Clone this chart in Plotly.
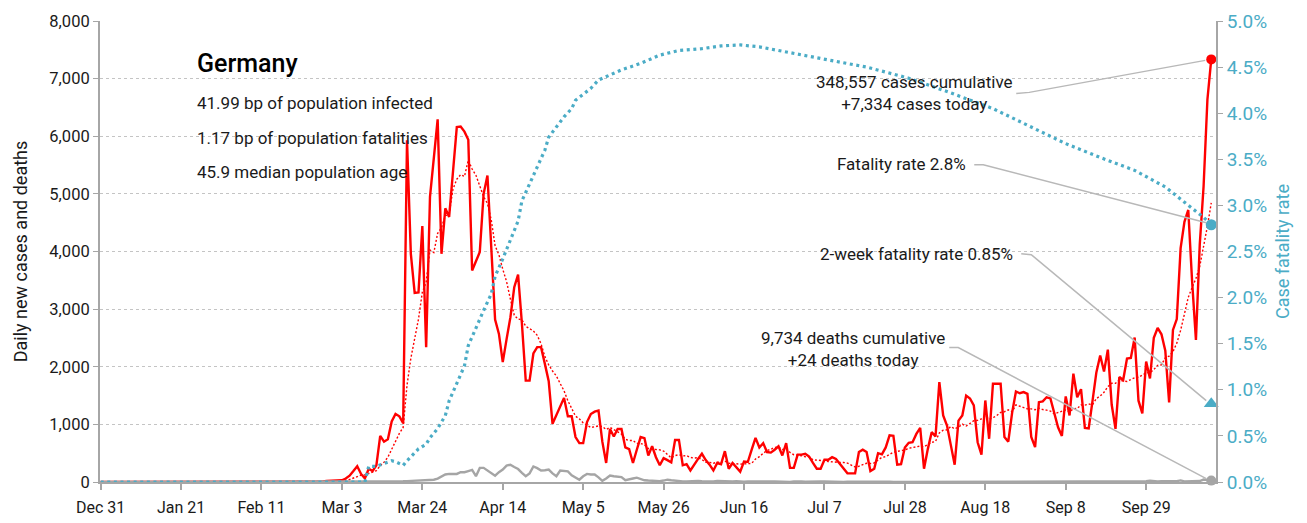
import pandas as pd
import plotly.graph_objects as go

# ---------------- data ----------------
start_date = "2019-12-31"

cases = (
    [0] * 28
    + [1, 3, 0, 1, 1, 0, 2, 0, 2, 0, 1, 0, 0, 0, 1, 0, 0, 0]                # d28-45
    + [0] * 10                                                                # d46-55
    + [2, 6, 10, 20, 25, 30, 25, 30, 60, 110]                                 # d56-65
    + [190, 275, 140, 60, 230, 190, 290, 800, 700, 740]                       # d66-75
    + [1050, 1180, 1140, 1020, 5930, 3960, 3280, 3290, 4440, 2340]            # d76-85
    + [4950, 5620, 6294, 3960, 4750, 4600, 5400, 6160, 6170, 6080]            # d86-95
    + [5940, 3670, 3830, 3990, 5000, 5320, 4070, 2820, 2570, 2080]            # d96-105
    + [2480, 2860, 3380, 3600, 2750, 1760, 1760, 2230, 2340, 2340]            # d106-115
    + [2050, 1750, 1010, 1160, 1310, 1460, 1140, 1140, 780, 675]              # d116-125
    + [675, 1040, 1180, 1220, 1240, 700, 330, 920, 790, 920]                  # d126-135
    + [920, 600, 570, 330, 560, 780, 760, 460, 620, 430]                      # d136-145
    + [290, 415, 380, 340, 730, 730, 290, 310, 200, 310]                      # d146-155
    + [400, 490, 380, 300, 200, 330, 310, 535, 230, 330]                      # d156-165
    + [260, 180, 355, 350, 560, 765, 600, 675, 520, 510]                      # d166-175
    + [560, 620, 460, 675, 245, 245, 475, 475, 490, 440]                      # d176-185
    + [330, 230, 230, 385, 385, 430, 400, 315, 230, 150]                      # d186-195
    + [150, 150, 520, 560, 520, 190, 230, 500, 480, 600]                      # d196-205
    + [810, 800, 300, 310, 600, 680, 690, 835, 940, 230]                      # d206-215
    + [575, 865, 790, 1735, 1155, 980, 640, 300, 1065, 1155]                  # d216-225
    + [1500, 1450, 1330, 690, 475, 1415, 750, 1705, 1705, 1705]               # d226-235
    + [780, 700, 1200, 1570, 1540, 1560, 1530, 780, 605, 1385]                # d236-245
    + [1400, 1470, 1450, 1195, 950, 800, 1485, 1155, 1880, 1470]              # d246-255
    + [1610, 940, 930, 1407, 1901, 2194, 1916, 2297, 1345, 922]               # d256-265
    + [1821, 1769, 2143, 2153, 2507, 1411, 1192, 2089, 1798, 2503]            # d266-275
    + [2673, 2563, 2279, 1382, 2639, 2828, 4058, 4516, 4721, 3483]            # d276-285
    + [2467, 4122, 5132, 6638, 7334]                                          # d286-290
)

deaths = (
    [0] * 69
    + [2, 0, 1, 1, 3, 1, 4, 2, 4, 10, 12]                                     # d69-79
    + [16, 20, 23, 30, 30, 35, 40, 40, 60, 90]                                # d80-89
    + [130, 140, 140, 140, 170, 170, 190, 210, 100, 245]                      # d90-99
    + [245, 200, 160, 110, 170, 215, 285, 300, 260, 225]                      # d100-109
    + [160, 100, 150, 270, 240, 200, 205, 215, 150, 100]                      # d110-119
    + [200, 190, 185, 115, 80, 40, 100, 140, 130, 130]                        # d120-129
    + [80, 20, 60, 113, 100, 90, 85, 30, 40, 60]                              # d130-139
    + [75, 50, 30, 25, 20, 20, 15, 25, 40, 30]                                # d140-149
    + [20, 15, 10, 10, 15, 25, 20, 15, 10, 5]                                 # d150-159
    + [10, 20, 15, 10, 5, 8, 12, 6, 4, 10]                                    # d160-169
    + [8, 12, 6, 3, 2, 9, 10, 7, 5, 2]                                        # d170-179
    + [3, 8, 12, 10, 6, 4, 1, 3, 9, 11]                                       # d180-189
    + [8, 4, 5, 2, 1, 6, 7, 10, 4, 3]                                         # d190-199
    + [1, 2, 8, 6, 9, 5, 7, 1, 1, 8]                                          # d200-209
    + [12, 7, 8, 4, 2, 5, 9, 6, 7, 3]                                         # d210-219
    + [1, 4, 7, 6, 5, 8, 2, 1, 6, 5]                                          # d220-229
    + [3, 5, 8, 7, 1, 0, 5, 4, 10, 12]                                        # d230-239
    + [8, 6, 3, 2, 1, 8, 11, 6, 9, 7]                                         # d240-249
    + [3, 2, 5, 11, 9, 6, 5, 2, 7, 13]                                        # d250-259
    + [8, 9, 11, 9, 6, 1, 12, 12, 13, 10]                                     # d260-269
    + [11, 6, 6, 13, 23, 14, 11, 12, 9, 10]                                   # d270-279
    + [13, 16, 27, 11, 10, 8, 6, 17, 43, 33]                                  # d280-289
    + [24]                                                                    # d290
)

# case fatality rate (cumulative deaths / cumulative cases)
cfr_days = [0, 30, 60, 69, 70, 72, 74, 76, 77, 79, 80, 81, 82, 83, 85, 86, 88,
            90, 91, 93, 95, 96, 98, 100, 102, 103, 105, 107, 109, 110, 112, 114,
            116, 117, 119, 121, 123, 124, 128, 130, 136, 141, 146, 151, 157, 162,
            167, 172, 177, 183, 191, 200, 211, 222, 233, 243, 252, 261, 270, 278,
            284, 288, 290]
cfr_pct = [0, 0, 0, 0, 0.17, 0.17, 0.20, 0.23, 0.22, 0.18, 0.23, 0.27, 0.31, 0.36,
           0.41, 0.48, 0.58, 0.72, 0.88, 1.07, 1.26, 1.48, 1.68, 1.86, 2.04, 2.23,
           2.42, 2.63, 2.83, 3.05, 3.24, 3.42, 3.60, 3.74, 3.85, 3.96, 4.05, 4.14,
           4.27, 4.36, 4.47, 4.54, 4.63, 4.68, 4.70, 4.73, 4.74, 4.72, 4.68, 4.63,
           4.57, 4.50, 4.38, 4.22, 4.05, 3.85, 3.67, 3.52, 3.38, 3.20, 3.00, 2.87,
           2.79]

two_week_cfr_pct = 0.85
cum_cases, today_cases = 348557, 7334
cum_deaths, today_deaths = 9734, 24
cfr_now_pct = 2.8

country = "Germany"
info_lines = ["41.99 bp of population infected",
              "1.17 bp of population fatalities",
              "45.9 median population age"]

x_tick_dates = ["2019-12-31", "2020-01-21", "2020-02-11", "2020-03-03", "2020-03-24",
                "2020-04-14", "2020-05-05", "2020-05-26", "2020-06-16", "2020-07-07",
                "2020-07-28", "2020-08-18", "2020-09-08", "2020-09-29"]
x_tick_labels = ["Dec 31", "Jan 21", "Feb 11", "Mar 3", "Mar 24", "Apr 14", "May 5",
                 "May 26", "Jun 16", "Jul 7", "Jul 28", "Aug 18", "Sep 8", "Sep 29"]

assert len(cases) == 291 and len(deaths) == 291 and len(cfr_days) == len(cfr_pct)

# ---------------- derived ----------------
dates = pd.date_range(start_date, periods=len(cases), freq="D")
avg7 = pd.Series(cases).rolling(7, min_periods=1).mean()
t0 = pd.Timestamp(start_date)
cfr_dates = [t0 + pd.Timedelta(days=d) for d in cfr_days]
cfr_frac = [v / 100 for v in cfr_pct]
last = dates[-1]

FONT = "Roboto, Liberation Sans, sans-serif"
RED = "#FF0000"
TEAL = "#4BACC6"
GREY = "#A5A5A5"
AXIS = "#A6A6A6"
TXT = "#1a1a1a"

fig = go.Figure()
fig.add_trace(go.Scatter(x=dates, y=cases, mode="lines",
                         line=dict(color=RED, width=2.4), hoverinfo="skip"))
fig.add_trace(go.Scatter(x=dates, y=avg7, mode="lines",
                         line=dict(color=RED, width=1.4, dash="2px,2px"), hoverinfo="skip"))
fig.add_trace(go.Scatter(x=dates, y=deaths, mode="lines",
                         line=dict(color=GREY, width=2.4), hoverinfo="skip"))
fig.add_trace(go.Scatter(x=cfr_dates, y=cfr_frac, mode="lines", yaxis="y2",
                         line=dict(color=TEAL, width=3.2, dash="3px,3.6px"), hoverinfo="skip"))
# end markers
fig.add_trace(go.Scatter(x=[last], y=[cases[-1]], mode="markers",
                         marker=dict(color=RED, size=10), cliponaxis=False))
fig.add_trace(go.Scatter(x=[last], y=[deaths[-1]], mode="markers",
                         marker=dict(color=GREY, size=10), cliponaxis=False))
fig.add_trace(go.Scatter(x=[last], y=[cfr_frac[-1]], mode="markers", yaxis="y2",
                         marker=dict(color=TEAL, size=11), cliponaxis=False))
fig.add_trace(go.Scatter(x=[last], y=[two_week_cfr_pct / 100], mode="markers", yaxis="y2",
                         marker=dict(color=TEAL, size=13, symbol="triangle-up"), cliponaxis=False))


def leader(yval, yref, pts):
    path = "M " + " L ".join(f"{px},{py}" for px, py in pts)
    return dict(type="path", xref="x", yref=yref, xsizemode="pixel", ysizemode="pixel",
                xanchor=last, yanchor=yval, path=path,
                line=dict(color="#B8B8B8", width=1.5), layer="above")


shapes = [
    leader(cases[-1], "y", [(-195, -34), (-182, -33), (-6, -1)]),
    leader(cfr_frac[-1], "y2", [(-237, 60), (-228, 60), (-5, 2)]),
    leader(two_week_cfr_pct / 100, "y2", [(-190, 150), (-180, 149), (-5, 3)]),
    leader(deaths[-1], "y", [(-262, 133), (-253, 133), (-5, 2)]),
]

# page body has an 8px margin; figure sized so the plot lands where the reference has it
OFF = 8
W, H = 1307 - OFF, 523 - OFF
PL, PR, PT, PB = 100 - OFF, 1216 - OFF, 21 - OFF, 482 - OFF


def px(xs):
    return (xs - OFF - PL) / (PR - PL)


def py(ys):
    return (PB - (ys - OFF)) / (PB - PT)


ANN = 17
ann = []
ann.append(dict(x=px(195), y=py(63), xref="paper", yref="paper", text=country,
                showarrow=False, xanchor="left", yanchor="middle",
                font=dict(family=FONT, size=25, color="#000", weight=500)))
for txt, yy in zip(info_lines, [103, 138, 172]):
    ann.append(dict(x=px(195), y=py(yy), xref="paper", yref="paper", text=txt,
                    showarrow=False, xanchor="left", yanchor="middle",
                    font=dict(family=FONT, size=ANN, color=TXT)))
ann.append(dict(x=px(914), y=py(93), xref="paper", yref="paper",
                text=f"{cum_cases:,} cases cumulative<br>+{today_cases:,} cases today",
                showarrow=False, xanchor="center", yanchor="middle", align="center",
                font=dict(family=FONT, size=ANN, color=TXT)))
ann.append(dict(x=px(968), y=py(164), xref="paper", yref="paper",
                text=f"Fatality rate {cfr_now_pct}%",
                showarrow=False, xanchor="right", yanchor="middle",
                font=dict(family=FONT, size=ANN, color=TXT)))
ann.append(dict(x=px(1015), y=py(254), xref="paper", yref="paper",
                text=f"2-week fatality rate {two_week_cfr_pct}%",
                showarrow=False, xanchor="right", yanchor="middle",
                font=dict(family=FONT, size=ANN, color=TXT)))
ann.append(dict(x=px(853), y=py(349), xref="paper", yref="paper",
                text=f"{cum_deaths:,} deaths cumulative<br>+{today_deaths} deaths today",
                showarrow=False, xanchor="center", yanchor="middle", align="center",
                font=dict(family=FONT, size=ANN, color=TXT)))

fig.update_layout(
    width=W, height=H,
    margin=dict(l=PL, r=W - PR, t=PT, b=H - PB, autoexpand=False),
    paper_bgcolor="white", plot_bgcolor="white",
    showlegend=False,
    font=dict(family=FONT, size=16, color=TXT),
    xaxis=dict(
        type="date", automargin=False,
        range=["2019-12-30 20:00", "2020-10-17 05:45"],
        tickvals=x_tick_dates, ticktext=x_tick_labels,
        showgrid=False, zeroline=False,
        showline=True, linecolor=AXIS, linewidth=2,
        ticks="outside", ticklen=6, tickcolor=AXIS, tickwidth=1.5,
        ticklabelstandoff=4,
        tickfont=dict(family=FONT, size=16, color=TXT),
    ),
    yaxis=dict(
        automargin=False,
        range=[0, 8000], dtick=1000, tickformat=",d",
        showgrid=True, gridcolor="#C4C4C4", griddash="dot", gridwidth=1,
        zeroline=False,
        showline=True, linecolor=AXIS, linewidth=2,
        ticks="outside", ticklen=5, tickcolor=AXIS,
        tickfont=dict(family=FONT, size=16.5, color=TXT),
        title=dict(text="Daily new cases and deaths",
                   font=dict(family=FONT, size=18, color=TXT), standoff=17),
    ),
    yaxis2=dict(
        automargin=False,
        overlaying="y", side="right",
        range=[0, 0.05], dtick=0.005, tickformat=".1%",
        showgrid=False, zeroline=False,
        showline=True, linecolor=AXIS, linewidth=2,
        ticks="outside", ticklen=5, tickcolor=AXIS,
        tickfont=dict(family=FONT, size=19, color=TEAL),
        title=dict(text="Case fatality rate",
                   font=dict(family=FONT, size=18, color=TEAL), standoff=10),
    ),
    shapes=shapes,
    annotations=ann,
)

fig.write_html("out.html")
